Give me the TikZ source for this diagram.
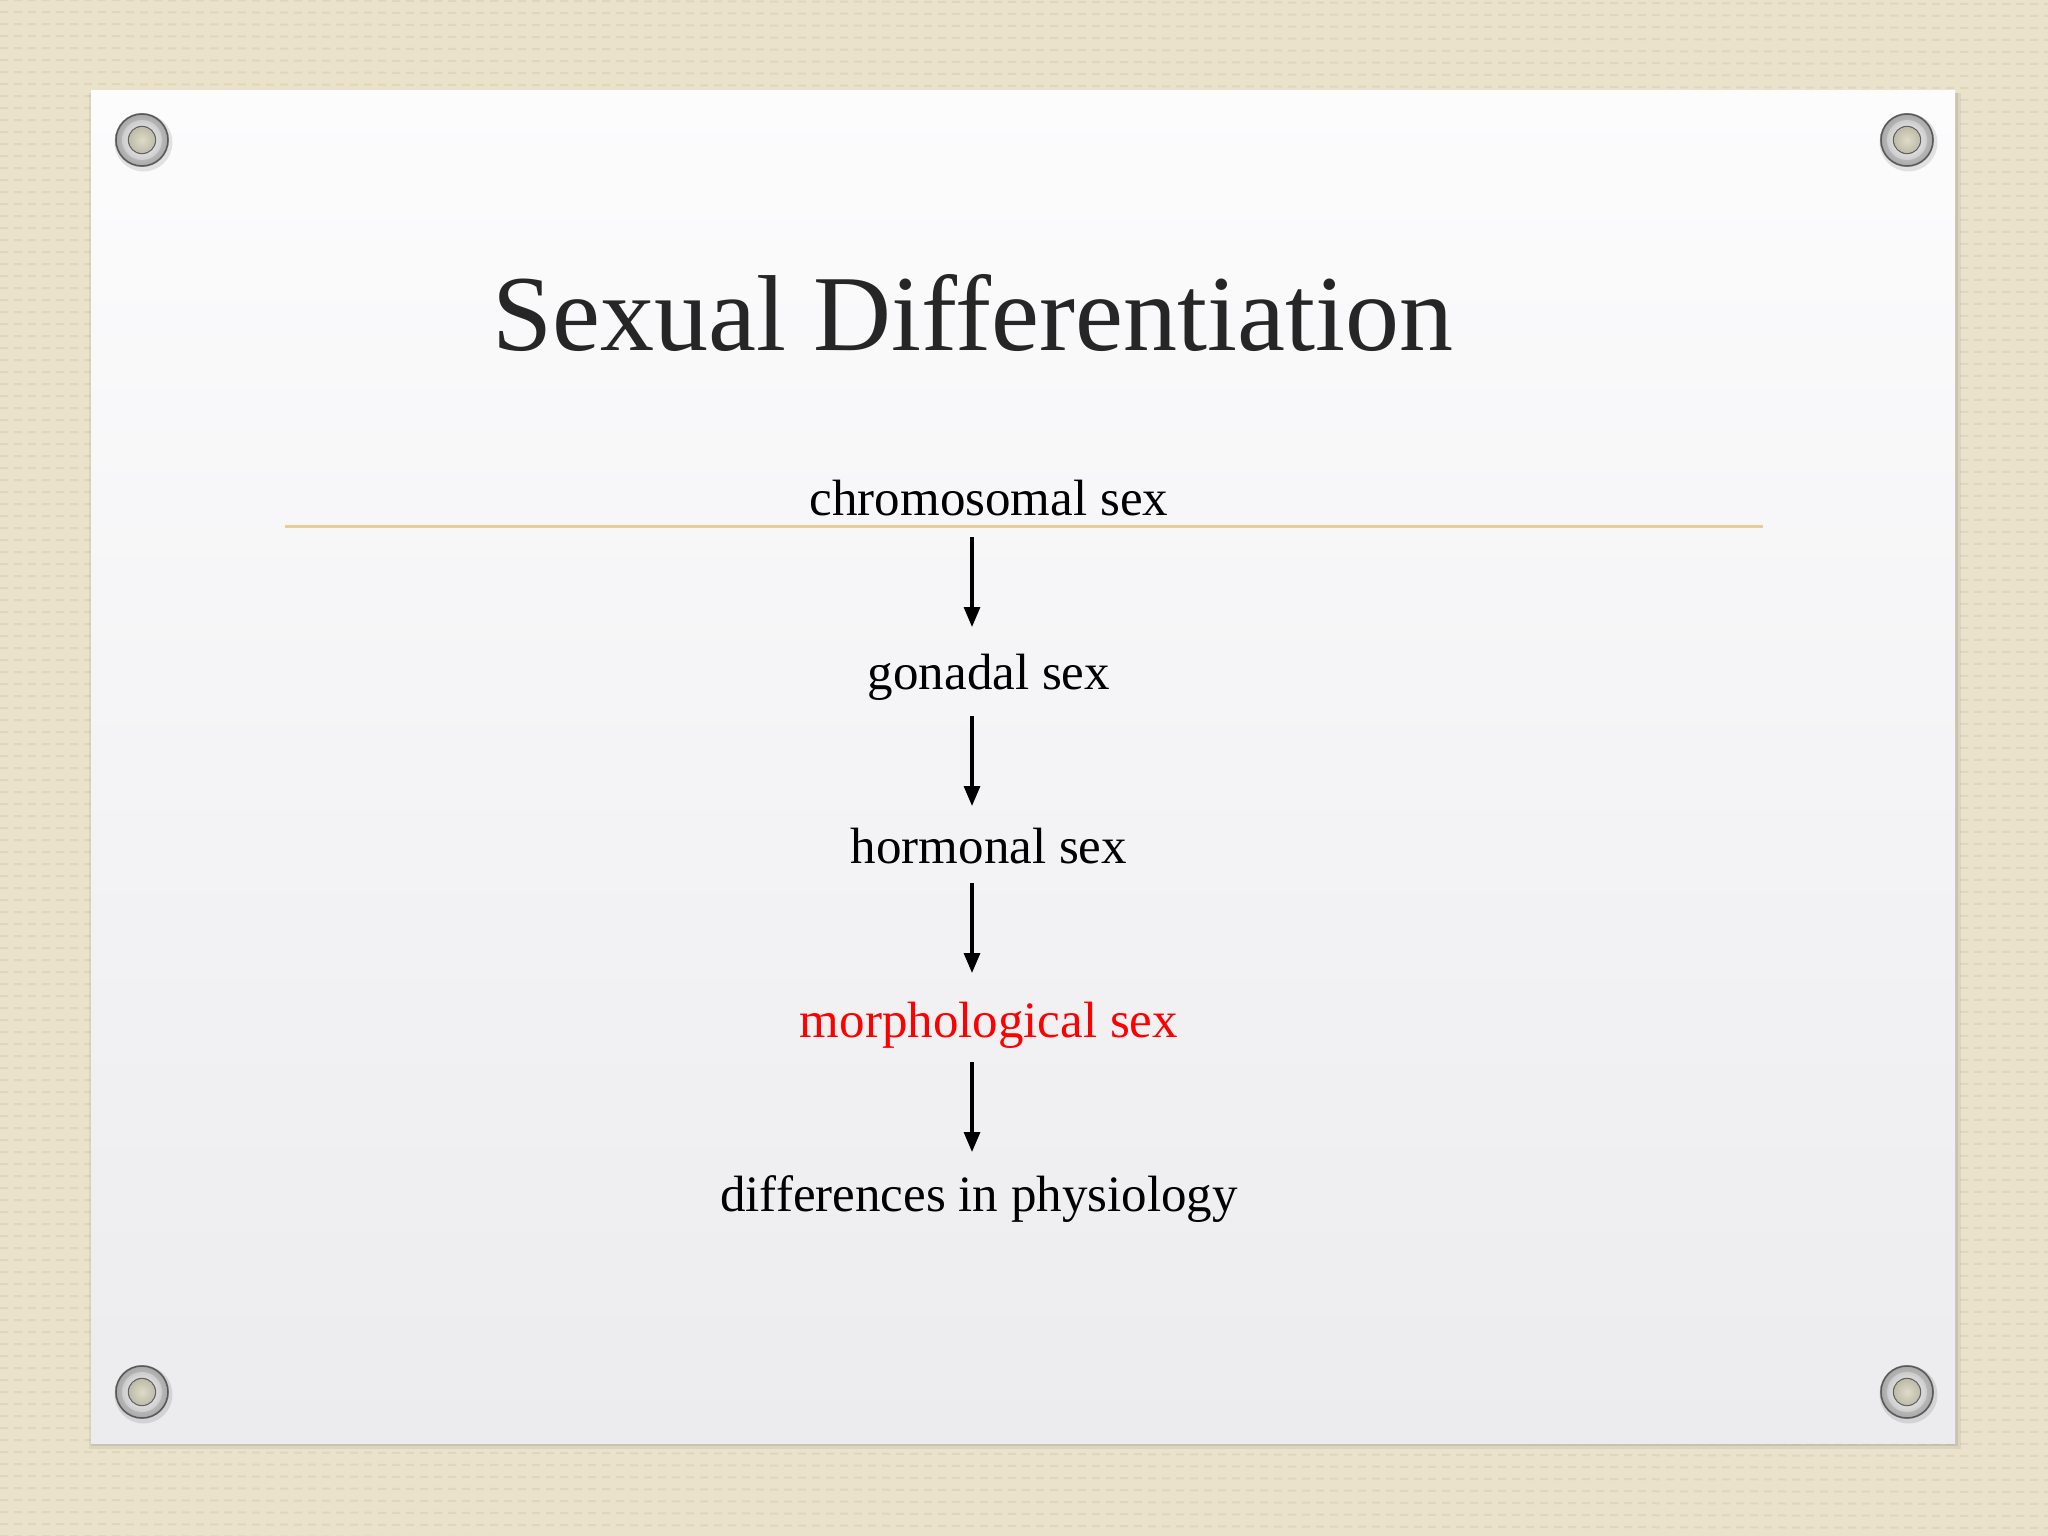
\documentclass[tikz,border=0pt]{standalone}
\usepackage{fontspec}
\setmainfont{Liberation Serif}
\usetikzlibrary{arrows.meta,shadings}
\definecolor{canvas}{RGB}{234,226,202}
\definecolor{canvasdark}{RGB}{218,206,176}
\definecolor{rule}{RGB}{233,205,150}
\definecolor{titlegray}{RGB}{38,38,38}
\definecolor{paperA}{RGB}{252,252,253}
\definecolor{paperB}{RGB}{236,236,239}
\definecolor{screwin}{RGB}{222,220,200}
\definecolor{screwinB}{RGB}{190,188,168}
\tikzset{
  lbl/.style={anchor=base, inner sep=0pt, font=\fontsize{51}{60}\selectfont, text=black},
  arr/.style={line width=3.2pt, -{Triangle[length=20pt,width=16pt]}},
  screw/.pic={
    \fill[black,opacity=0.10] (1.5,2.5) circle (29);
    \shade[inner color=gray!20, outer color=gray!70] (0,0) circle (27);
    \draw[gray!70!black, line width=1.5pt] (0,0) circle (26);
    \shade[inner color=white, outer color=gray!40] (0,0) circle (20);
    \draw[gray!75!black, line width=1.4pt] (0,0) circle (13.5);
    \shade[inner color=screwin, outer color=screwinB] (0,0) circle (13);
  }
}
\begin{document}
\begin{tikzpicture}[x=1pt,y=-1pt]
\useasboundingbox (0,0) rectangle (2048,1536);
% canvas background
\fill[canvas] (0,0) rectangle (2048,1536);
\foreach \yy in {0,12,...,1536} {
  \draw[canvasdark, line width=2pt, dash pattern=on 8pt off 6pt, opacity=0.6] (0,\yy) -- (2048,\yy+4);
}
% paper shadow
\fill[black,opacity=0.06] (89,93) rectangle (1961,1449);
\fill[black,opacity=0.08] (91,93) rectangle (1958,1446);
% paper
\shade[top color=paperA, bottom color=paperB] (91,91) rectangle (1955,1443);
% screws
\pic at (142,140) {screw};
\pic at (1907,140) {screw};
\pic at (142,1392) {screw};
\pic at (1907,1392) {screw};
% title
\node[anchor=base, inner sep=0pt, font=\fontsize{108}{120}\selectfont, text=titlegray] (title) at (973,350) {Sexual Differentiation};
% rule
\coordinate (rl) at (285,526);
\coordinate (rr) at (1763,526);
\draw[rule, line width=3pt] (rl) -- (rr);
% labels
\node[lbl] (chrom) at (989,515) {chromosomal sex};
\node[lbl] (gonad) at (989,689) {gonadal sex};
\node[lbl] (horm) at (989,863) {hormonal sex};
\node[lbl, text=red] (morph) at (989,1037) {morphological sex};
\node[lbl] (diff) at (979,1211) {differences in physiology};
% arrows
\coordinate (a1s) at (972,537);  \coordinate (a1e) at (972,627);
\coordinate (a2s) at (972,716);  \coordinate (a2e) at (972,806);
\coordinate (a3s) at (972,883);  \coordinate (a3e) at (972,973);
\coordinate (a4s) at (972,1062); \coordinate (a4e) at (972,1152);
\draw[arr] (a1s) -- (a1e);
\draw[arr] (a2s) -- (a2e);
\draw[arr] (a3s) -- (a3e);
\draw[arr] (a4s) -- (a4e);
\end{tikzpicture}
\end{document}
